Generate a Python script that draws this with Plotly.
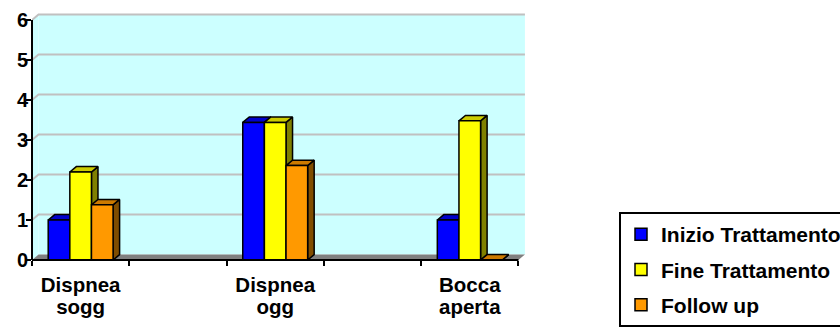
import plotly.graph_objects as go

# ---- data -------------------------------------------------------------
categories = ["Dispnea sogg", "Dispnea ogg", "Bocca aperta"]
series_names = ["Inizio Trattamento", "Fine Trattamento", "Follow up"]
inizio_trattamento = [1.0, 3.44, 1.0]
fine_trattamento = [2.2, 3.44, 3.48]
follow_up = [1.38, 2.36, 0.0]
y_ticks = [0, 1, 2, 3, 4, 5, 6]

series_values = [inizio_trattamento, fine_trattamento, follow_up]

# ---- styling / geometry -------------------------------------------------
FONT = "Liberation Sans, Arial, sans-serif"
front_colors = ["#0000FF", "#FFFF00", "#FF9900"]
top_colors = ["#0000CC", "#CCCC00", "#CC7A00"]
side_colors = ["#000080", "#808000", "#804D00"]
WALL = "#CCFFFF"
FLOOR = "#808080"
GRID = "#C0C0C0"

slots = [0, 2, 4]                 # axis slots used by the labelled groups
n_slots = 5                       # two blank slots sit between the groups
X_RANGE = [-0.5, 4.65]
Y_RANGE = [0, 6.2]
BW = (1 - 0.333) / 3              # width of one bar
DX, DY = 0.067, 0.135             # 3-D depth offset in axis units
x_left, x_right = -0.5, n_slots - 0.5
y_top = max(y_ticks)

# one word per line; glyphs a bit larger than the line pitch
LABEL_PX = 20.5
ticktext = ["<br>".join(f"<span style='font-size:{LABEL_PX}px'>{w}</span>"
                        for w in c.split(" ")) for c in categories]

fig = go.Figure()

# side and top faces of each prism (base axes, painted left to right)
for k, slot in enumerate(slots):
    for i, vals in enumerate(series_values):
        v = vals[k]
        xc = slot + (i - 1) * BW
        l, r = xc - BW / 2, xc + BW / 2
        fig.add_trace(go.Scatter(
            x=[r, r + DX, r + DX, r, r], y=[0, DY, v + DY, v, 0],
            mode="lines", fill="toself", fillcolor=side_colors[i],
            line=dict(color="black", width=1.5), showlegend=False,
            hoverinfo="skip", cliponaxis=False))
        fig.add_trace(go.Scatter(
            x=[l, r, r + DX, l + DX, l], y=[v, v, v + DY, v + DY, v],
            mode="lines", fill="toself", fillcolor=top_colors[i],
            line=dict(color="black", width=1.5), showlegend=False,
            hoverinfo="skip", cliponaxis=False))

# front faces as bars on an overlaid subplot so they sit on top
for i, (name, vals) in enumerate(zip(series_names, series_values)):
    fig.add_trace(go.Bar(
        x=slots, y=vals, name=name, width=BW, offset=(i - 1) * BW - BW / 2,
        marker=dict(color=front_colors[i], line=dict(color="black", width=1.5)),
        xaxis="x2", yaxis="y2", legendgroup=str(i), cliponaxis=False,
        hoverinfo="skip"))

shapes = []
# back wall, side wall, floor
shapes.append(dict(type="rect", xref="x", yref="y", layer="below",
                   x0=x_left + DX, x1=x_right + DX, y0=DY, y1=y_top + DY,
                   fillcolor=WALL, line=dict(width=0)))
shapes.append(dict(type="path", xref="x", yref="y", layer="below",
                   path=f"M{x_left},0 L{x_left},{y_top} L{x_left + DX},{y_top + DY} "
                        f"L{x_left + DX},{DY} Z",
                   fillcolor=WALL, line=dict(width=0)))
shapes.append(dict(type="path", xref="x", yref="y", layer="below",
                   path=f"M{x_left},0 L{x_right},0 L{x_right + DX},{DY} "
                        f"L{x_left + DX},{DY} Z",
                   fillcolor=FLOOR, line=dict(width=0)))
# gridlines on the walls
for t in y_ticks[1:]:
    shapes.append(dict(type="path", xref="x", yref="y", layer="below",
                       path=f"M{x_left},{t} L{x_left + DX},{t + DY} L{x_right + DX},{t + DY}",
                       line=dict(color=GRID, width=2)))
# axis lines
shapes.append(dict(type="line", xref="paper", yref="y", layer="above",
                   x0=0, x1=0, y0=0, y1=y_top, line=dict(color="black", width=2)))
shapes.append(dict(type="line", xref="x", yref="paper", layer="above",
                   x0=x_left, x1=x_right, y0=0, y1=0, line=dict(color="black", width=2)))

bold = dict(family=FONT, color="black", weight="bold")

fig.update_layout(
    width=840, height=328,
    margin=dict(l=32, r=307, t=9, b=68),
    paper_bgcolor="white", plot_bgcolor="rgba(0,0,0,0)",
    barmode="overlay",
    shapes=shapes,
    xaxis=dict(range=X_RANGE, tickmode="array", tickvals=slots, ticktext=ticktext,
               ticks="", showgrid=False, zeroline=False, showline=False,
               tickfont=dict(size=17.5, **bold), ticklabelstandoff=13,
               minor=dict(tickmode="array",
                          tickvals=[x_left + j for j in range(n_slots + 1)],
                          ticks="outside", ticklen=5, tickwidth=2,
                          tickcolor="black", showgrid=False)),
    yaxis=dict(range=Y_RANGE, tickmode="array", tickvals=y_ticks,
               ticks="outside", ticklen=5, tickwidth=2, tickcolor="black",
               showgrid=False, zeroline=False, showline=False,
               tickfont=dict(size=20, **bold), ticklabelstandoff=-6),
    xaxis2=dict(overlaying="x", anchor="y2", range=X_RANGE, visible=False),
    yaxis2=dict(overlaying="y", anchor="x2", range=Y_RANGE, visible=False),
    legend=dict(xref="container", yref="container", x=619 / 840, y=1 - 212 / 328,
                xanchor="left", yanchor="top", bgcolor="white",
                bordercolor="black", borderwidth=2, traceorder="grouped",
                tracegroupgap=5, font=dict(size=21, **bold)),
    showlegend=True,
)

fig.write_html("out.html")
